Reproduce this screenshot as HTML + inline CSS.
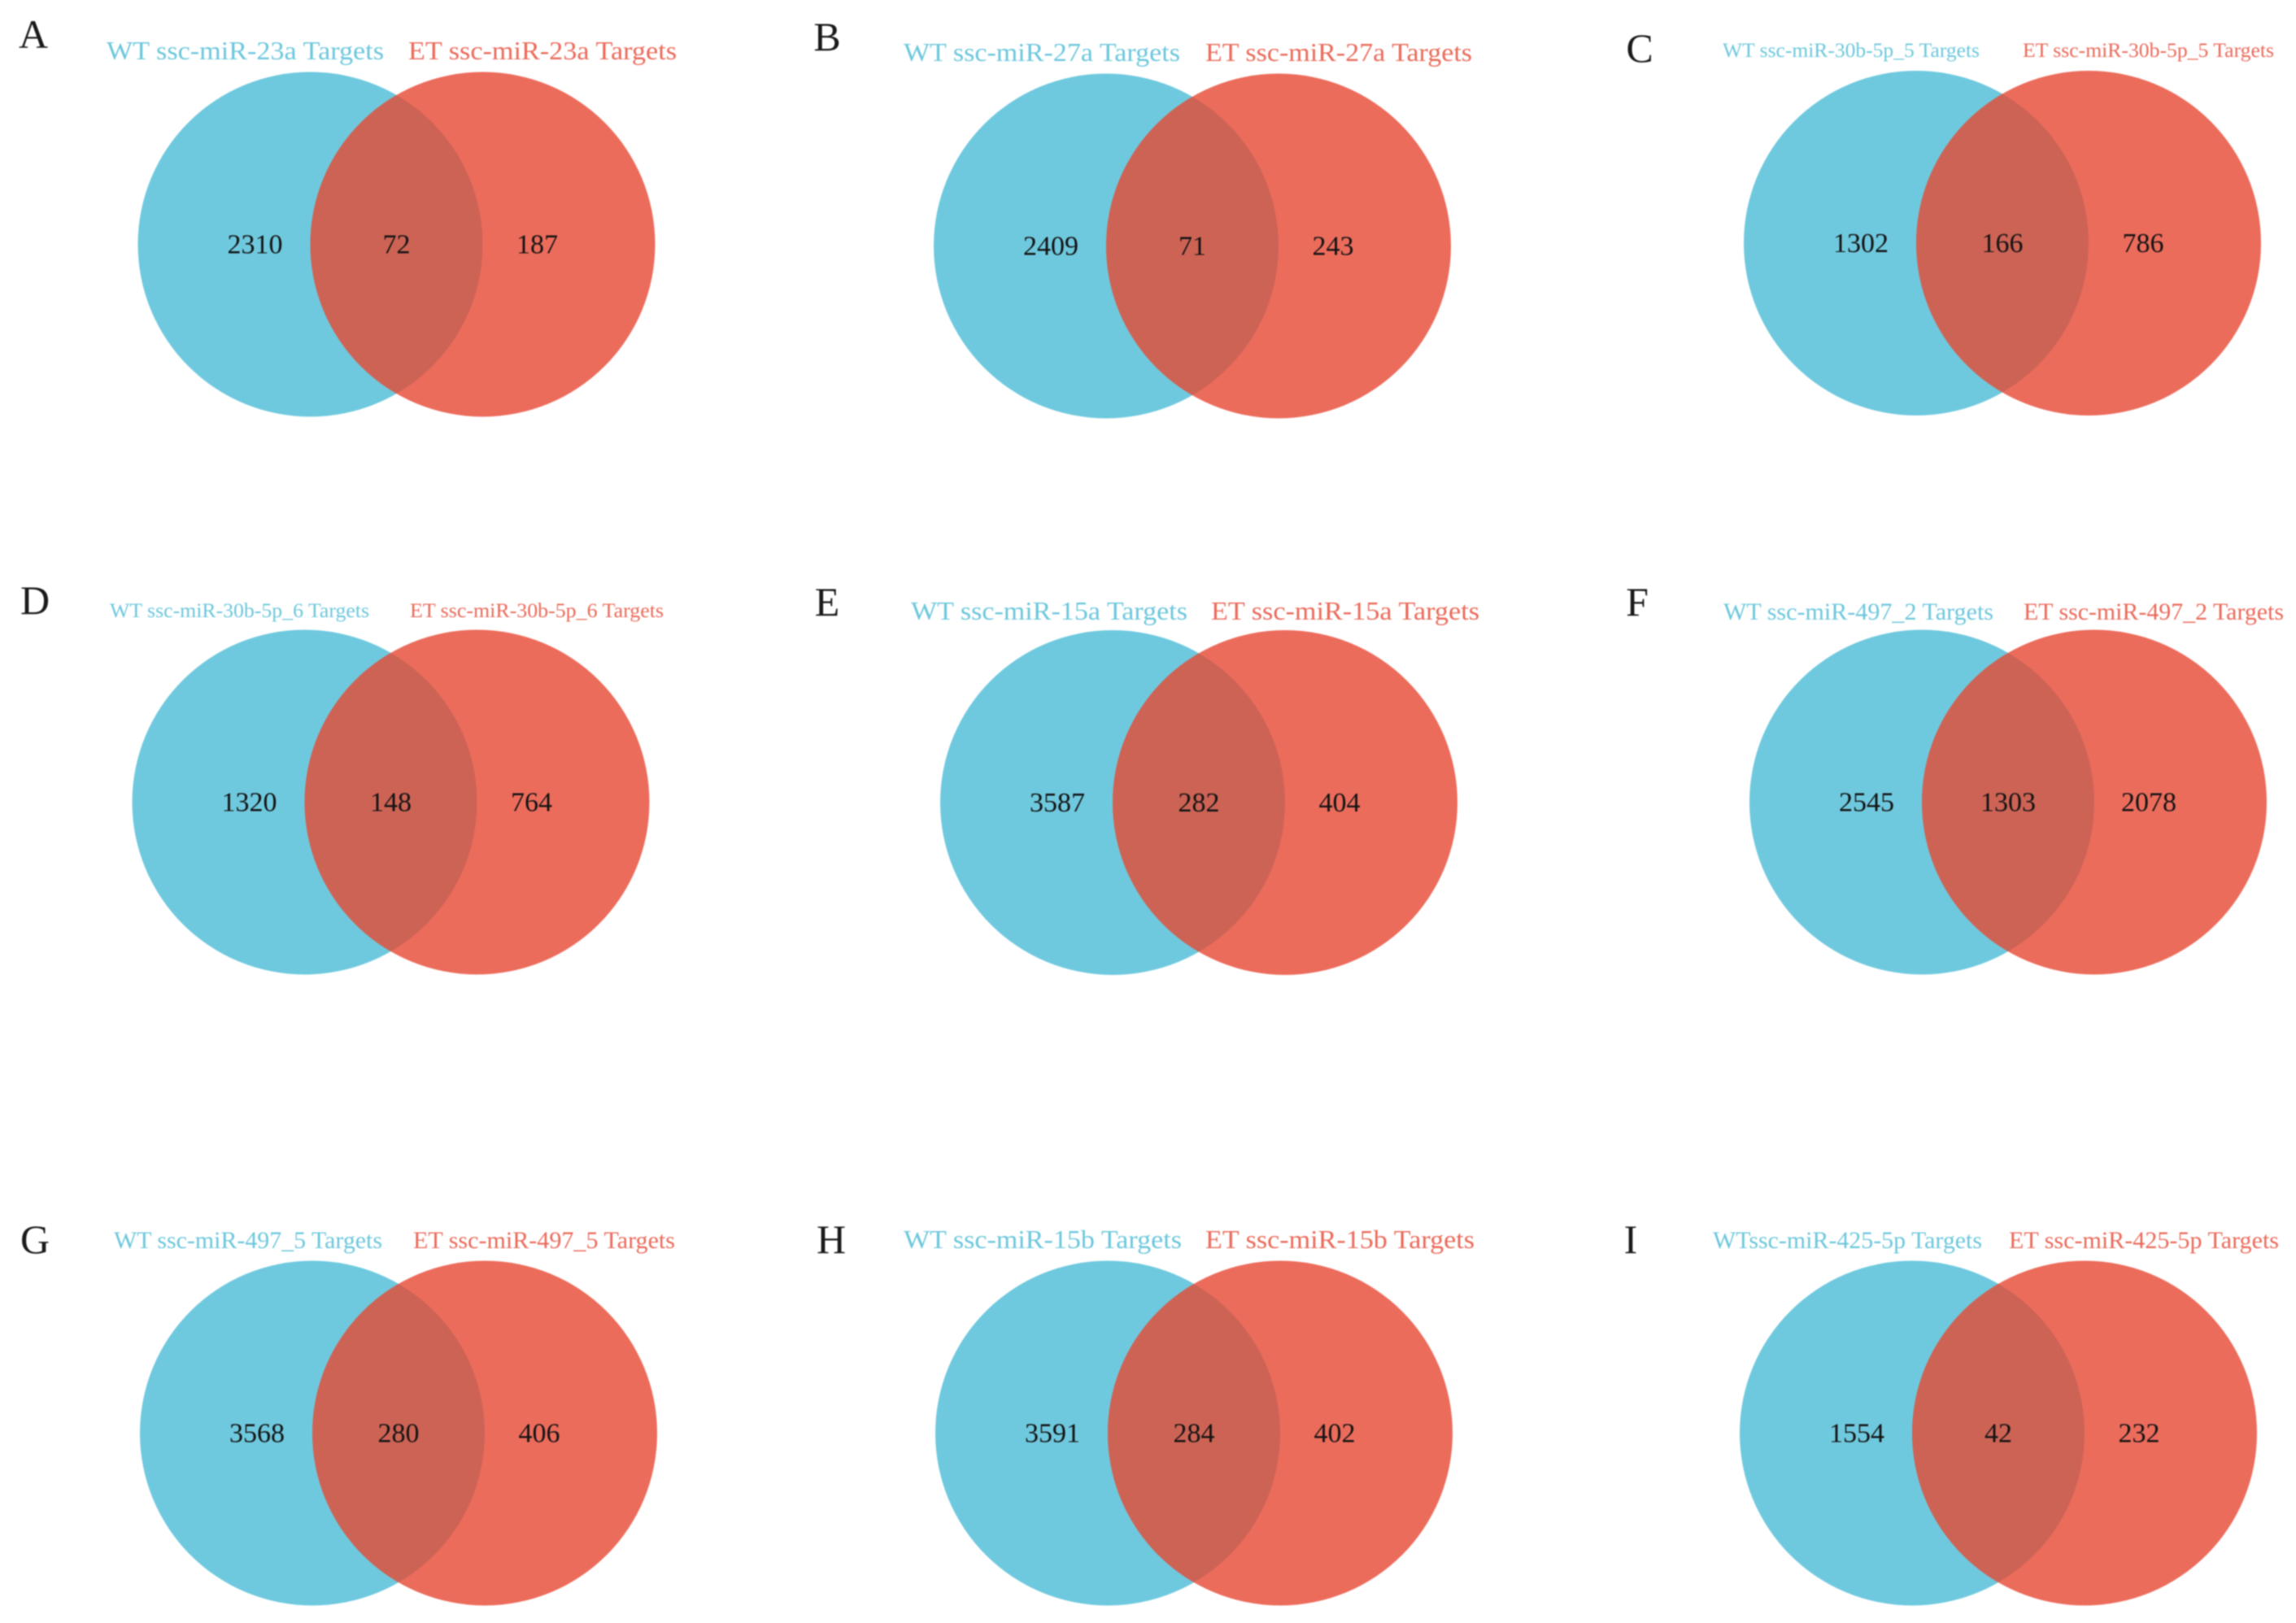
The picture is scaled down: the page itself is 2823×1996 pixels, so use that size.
<!DOCTYPE html>
<html lang="en">
<head>
<meta charset="utf-8">
<title>Venn diagrams of WT and ET miRNA targets</title>
<style>
  html, body { margin: 0; padding: 0; background: #ffffff; }
  body { width: 2823px; height: 1996px; overflow: hidden; }
  #venn-figure { display: block; filter: blur(0.9px); }
  text { font-family: "Liberation Serif", serif; }
</style>
</head>
<body>
<svg id="venn-figure" xmlns="http://www.w3.org/2000/svg" width="2823" height="1996" viewBox="0 0 2823 1996">
  <rect width="2823" height="1996" fill="#ffffff"></rect>
</svg>
<script>
// ---- chart data ----
const panelLetters = ["A", "B", "C", "D", "E", "F", "G", "H", "I"];
const wtTitles = [
  "WT ssc-miR-23a Targets", "WT ssc-miR-27a Targets", "WT ssc-miR-30b-5p_5 Targets",
  "WT ssc-miR-30b-5p_6 Targets", "WT ssc-miR-15a Targets", "WT ssc-miR-497_2 Targets",
  "WT ssc-miR-497_5 Targets", "WT ssc-miR-15b Targets", "WTssc-miR-425-5p Targets"
];
const etTitles = [
  "ET ssc-miR-23a Targets", "ET ssc-miR-27a Targets", "ET ssc-miR-30b-5p_5 Targets",
  "ET ssc-miR-30b-5p_6 Targets", "ET ssc-miR-15a Targets", "ET ssc-miR-497_2 Targets",
  "ET ssc-miR-497_5 Targets", "ET ssc-miR-15b Targets", "ET ssc-miR-425-5p Targets"
];
const wtOnlyCounts = [2310, 2409, 1302, 1320, 3587, 2545, 3568, 3591, 1554];
const sharedCounts = [72, 71, 166, 148, 282, 1303, 280, 284, 42];
const etOnlyCounts = [187, 243, 786, 764, 404, 2078, 406, 402, 232];

// ---- layout (page geometry, separate from the data) ----
const panelLayout = [
  { cx: 381.5, cy: 300.5, letterX: 41, letterY: 59, titleY: 73, wt: [131, 472], et: [502, 832], size: 32 },
  { cx: 1360, cy: 302.5, letterX: 1017, letterY: 62, titleY: 75, wt: [1111, 1451], et: [1482, 1810], size: 32 },
  { cx: 2356, cy: 299, letterX: 2016, letterY: 76, titleY: 70, wt: [2118, 2434], et: [2487, 2796], size: 25 },
  { cx: 374.5, cy: 986.5, letterX: 43, letterY: 755, titleY: 759, wt: [135, 454], et: [504, 816], size: 25 },
  { cx: 1368, cy: 987, letterX: 1017, letterY: 757, titleY: 762, wt: [1120, 1460], et: [1489, 1819], size: 32 },
  { cx: 2363, cy: 986.5, letterX: 2013, letterY: 757, titleY: 762, wt: [2119, 2451], et: [2488, 2808], size: 30 },
  { cx: 384, cy: 1762.5, letterX: 43, letterY: 1541, titleY: 1535, wt: [140, 470], et: [508, 830], size: 30 },
  { cx: 1362, cy: 1762.5, letterX: 1022, letterY: 1541, titleY: 1535, wt: [1111, 1453], et: [1482, 1813], size: 32 },
  { cx: 2351, cy: 1762.5, letterX: 2005, letterY: 1541, titleY: 1535, wt: [2106, 2437], et: [2470, 2802], size: 30 }
];
const circleRadius = 212;
const blueFill = "#6fc9de";
const redFill = "#ec6c5c";
const overlapFill = "#cd6355";
const wtTitleFill = "#6cc7dc";
const etTitleFill = "#ea6a5a";
const numberFill = "#141414";

const svg = document.getElementById("venn-figure");
const NS = "http://www.w3.org/2000/svg";

function make(tag, attrs, parent, content) {
  const el = document.createElementNS(NS, tag);
  Object.keys(attrs).forEach(function (k) { el.setAttribute(k, attrs[k]); });
  if (content !== undefined) el.textContent = content;
  parent.appendChild(el);
  return el;
}

panelLetters.forEach(function (letter, i) {
  const p = panelLayout[i];
  const id = letter.toLowerCase();
  const blueX = p.cx;
  const redX = p.cx + circleRadius;
  const midX = (blueX + redX) / 2;
  const halfChord = Math.sqrt(circleRadius * circleRadius - circleRadius * circleRadius / 4);

  const g = make("g", {}, svg);
  
  

  const letterEl = make("text", { x: p.letterX, y: p.letterY, "text-anchor": "middle", "font-size": 50, fill: "#1a1a1a" }, g, letter);
  
  

  const wtTitle = make("text", { x: p.wt[0], y: p.titleY, textLength: p.wt[1] - p.wt[0], lengthAdjust: "spacingAndGlyphs", "font-size": p.size, fill: wtTitleFill }, g, wtTitles[i]);
  
  

  const etTitle = make("text", { x: p.et[0], y: p.titleY, textLength: p.et[1] - p.et[0], lengthAdjust: "spacingAndGlyphs", "font-size": p.size, fill: etTitleFill }, g, etTitles[i]);
  
  

  const blue = make("circle", { cx: blueX, cy: p.cy, r: circleRadius, fill: blueFill }, g);
  
  

  const red = make("circle", { cx: redX, cy: p.cy, r: circleRadius, fill: redFill }, g);
  
  

  const lensPath = "M" + midX + " " + (p.cy - halfChord) +
    " A" + circleRadius + " " + circleRadius + " 0 0 1 " + midX + " " + (p.cy + halfChord) +
    " A" + circleRadius + " " + circleRadius + " 0 0 1 " + midX + " " + (p.cy - halfChord) + "Z";
  const lens = make("path", { d: lensPath, fill: overlapFill }, g);
  
  

  const numY = p.cy + 11;
  const left = make("text", { x: blueX - 68, y: numY, "text-anchor": "middle", "font-size": 34, fill: numberFill }, g, String(wtOnlyCounts[i]));
  
  

  const mid = make("text", { x: midX, y: numY, "text-anchor": "middle", "font-size": 34, fill: numberFill }, g, String(sharedCounts[i]));
  
  

  const right = make("text", { x: redX + 67, y: numY, "text-anchor": "middle", "font-size": 34, fill: numberFill }, g, String(etOnlyCounts[i]));
  
  
});
</script>
</body>
</html>
